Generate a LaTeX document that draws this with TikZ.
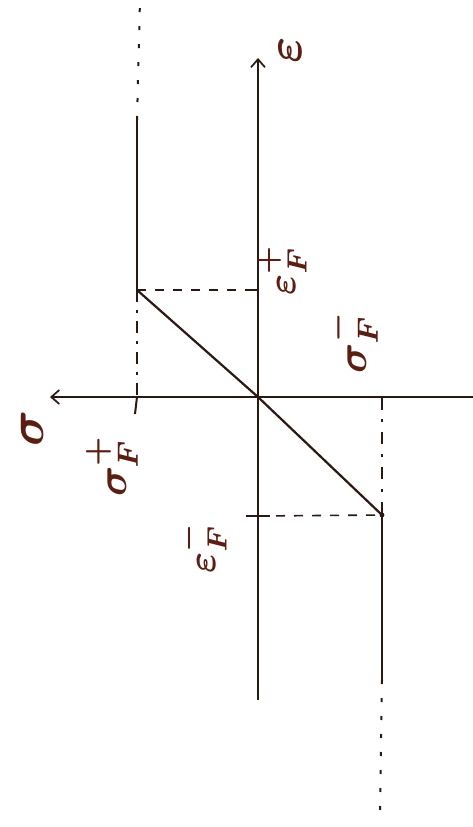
\documentclass[tikz,border=0pt]{standalone}
\usepackage{amsmath}
\usetikzlibrary{arrows.meta}
\definecolor{ink}{HTML}{2A1812}
\definecolor{redink}{HTML}{5A1E12}
\begin{document}
\begin{tikzpicture}[x=1pt,y=-1pt,
  axis/.style={ink,line width=1.7pt},
  solidline/.style={ink,line width=2.2pt},
  dashline/.style={ink,line width=1.6pt,dash pattern=on 9pt off 9pt},
  dotline/.style={ink,line width=2pt,dash pattern=on 4pt off 14pt},
  lbl/.style={redink,rotate=90,inner sep=0pt}]
\useasboundingbox[fill=white] (0,0) rectangle (473,827);
% coordinates
\coordinate (O) at (258,397);
\coordinate (yT) at (258,58);
\coordinate (yB) at (258,700);
\coordinate (xL) at (50,397);
\coordinate (xR) at (473,397);
\coordinate (A) at (137,290);
\coordinate (Atop) at (137,120);
\coordinate (Adot) at (140,0);
\coordinate (Aax) at (137,397);
\coordinate (Atick) at (135,414);
\coordinate (Ay) at (258,290);
\coordinate (B) at (382,515);
\coordinate (Bax) at (382,397);
\coordinate (By) at (258,516);
\coordinate (Bbot) at (382,680);
\coordinate (Bdot) at (380,820);
% axes
\draw[axis,-{Straight Barb[length=8pt,width=14pt]}] (yB) -- (yT);
\draw[axis,-{Straight Barb[length=8pt,width=14pt]}] (xR) -- (xL);
% left branch
\draw[solidline] (Atop) -- (A);
\draw[dotline] (Atop) -- (Adot);
\draw[dashline] (A) -- (Ay);
\draw[axis] (250,290) -- (Ay);
\draw[ink,line width=1.4pt,dash pattern=on 12pt off 8pt on 3pt off 8pt] (A) -- (Aax);
\draw[ink,line width=2pt] (Aax) -- (Atick);
% diagonal
\draw[solidline] (A) -- (O) -- (B);
% right branch
\draw[ink,line width=1.4pt,dash pattern=on 12pt off 10pt on 3pt off 10pt] (Bax) -- (B);
\draw[ink,line width=1.8pt] (Bax) -- (382,410);
\draw[dashline] (By) -- (B);
\draw[axis] (246,516) -- (270,516);
\fill[ink] (B) circle (2.4pt);
\draw[solidline] (B) -- (Bbot);
\draw[dotline] (Bbot) -- (Bdot);
% labels
\node[lbl] (lE) at (290,50) {\scalebox{5}{$\boldsymbol{\varepsilon}$}};
\node[lbl] (lEp) at (282,270) {\scalebox{4}{$\boldsymbol{\varepsilon_F^{+}}$}};
\node[lbl] (lSm) at (352,342) {\scalebox{4.2}{$\boldsymbol{\sigma_F^{-}}$}};
\node[lbl] (lS) at (32,428) {\scalebox{5}{$\boldsymbol{\sigma}$}};
\node[lbl] (lSp) at (112,466) {\scalebox{4.2}{$\boldsymbol{\sigma_F^{+}}$}};
\node[lbl] (lEm) at (202,548) {\scalebox{4}{$\boldsymbol{\varepsilon_F^{-}}$}};
\end{tikzpicture}
\end{document}
